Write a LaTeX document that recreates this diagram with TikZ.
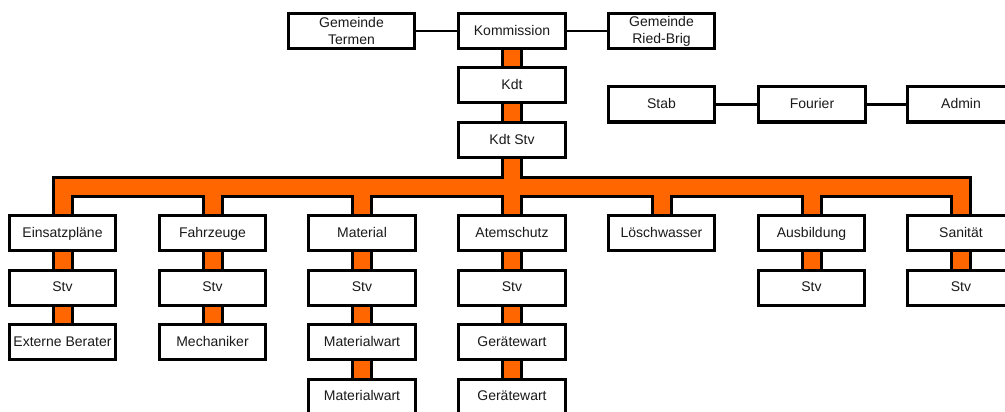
\documentclass[tikz,border=0pt]{standalone}
\usepackage{fontspec}
\setmainfont{Liberation Sans}
\definecolor{bar}{HTML}{FF6600}
\definecolor{txt}{HTML}{1A1A1A}
\begin{document}
\begin{tikzpicture}[x=1pt,y=-1pt,
  boxbase/.style={draw=black, line width=3pt, fill=white, minimum width=106.5pt,
    minimum height=35pt, inner sep=0pt, align=center, text=txt,
    font=\fontsize{14}{17}\selectfont},
  box/.style={boxbase, text height=10.5pt, text depth=2pt},
  widebox/.style={boxbase, minimum width=126pt},
  twobox/.style={boxbase},
  barout/.style={line width=22pt, draw=black, line join=miter},
  barin/.style={line width=16pt, draw=bar, line join=miter},
  thin/.style={line width=2.5pt, draw=black}]
\useasboundingbox (0,0) rectangle (1005,412);
\clip (0,0) rectangle (1005,412);
\coordinate (bus) at (512,186.5);
\path
  (351.5,31) coordinate (pTer)
  (512,31) coordinate (pKom)
  (661.5,31) coordinate (pRied)
  (512,85.5) coordinate (pKdt)
  (512,140) coordinate (pKdtS)
  (661.5,104.5) coordinate (pStab)
  (812,104.5) coordinate (pFour)
  (961,104.5) coordinate (pAdm);
\foreach \n/\x in {a/62.5,b/212.5,c/362,d/512,e/661.5,f/811.5,g/961}{
  \foreach \m/\y in {1/233,2/287.5,3/342,4/396.5}{
    \coordinate (p\n\m) at (\x,\y);
  }
}
% orange connectors: black outline layer, then orange layer
\foreach \s in {barout,barin}{
  \draw[\s] (pa1) |- (bus) -| (pg1);
  \draw[\s] (pKom) -- (pKdt) -- (pKdtS) -- (pd1) -- (pd2) -- (pd3) -- (pd4);
  \draw[\s] (pb1) -- (pb1 |- bus);
  \draw[\s] (pc1) -- (pc1 |- bus);
  \draw[\s] (pe1) -- (pe1 |- bus);
  \draw[\s] (pf1) -- (pf1 |- bus);
  \draw[\s] (pa1) -- (pa2) -- (pa3);
  \draw[\s] (pb1) -- (pb2) -- (pb3);
  \draw[\s] (pc1) -- (pc2) -- (pc3) -- (pc4);
  \draw[\s] (pf1) -- (pf2);
  \draw[\s] (pg1) -- (pg2);
}
% boxes
\node[widebox] (ter) at (pTer) {Gemeinde\\Termen};
\node[box] (kom) at (pKom) {Kommission};
\node[twobox] (ried) at (pRied) {Gemeinde\\Ried-Brig};
\node[box] (kdt) at (pKdt) {Kdt};
\node[box] (kdts) at (pKdtS) {Kdt Stv};
\node[box] (stab) at (pStab) {Stab};
\node[box] (four) at (pFour) {Fourier};
\node[box] (adm) at (pAdm) {Admin};
\draw[thin] (ter) -- (kom);
\draw[thin] (kom) -- (ried);
\draw[thin] (stab) -- (four);
\draw[thin] (four) -- (adm);
\node[box] (a1) at (pa1) {Einsatzpläne};
\node[box] (a2) at (pa2) {Stv};
\node[box] (a3) at (pa3) {Externe Berater};
\node[box] (b1) at (pb1) {Fahrzeuge};
\node[box] (b2) at (pb2) {Stv};
\node[box] (b3) at (pb3) {Mechaniker};
\node[box] (c1) at (pc1) {Material};
\node[box] (c2) at (pc2) {Stv};
\node[box] (c3) at (pc3) {Materialwart};
\node[box] (c4) at (pc4) {Materialwart};
\node[box] (d1) at (pd1) {Atemschutz};
\node[box] (d2) at (pd2) {Stv};
\node[box] (d3) at (pd3) {Gerätewart};
\node[box] (d4) at (pd4) {Gerätewart};
\node[box] (e1) at (pe1) {Löschwasser};
\node[box] (f1) at (pf1) {Ausbildung};
\node[box] (f2) at (pf2) {Stv};
\node[box] (g1) at (pg1) {Sanität};
\node[box] (g2) at (pg2) {Stv};
\end{tikzpicture}
\end{document}
